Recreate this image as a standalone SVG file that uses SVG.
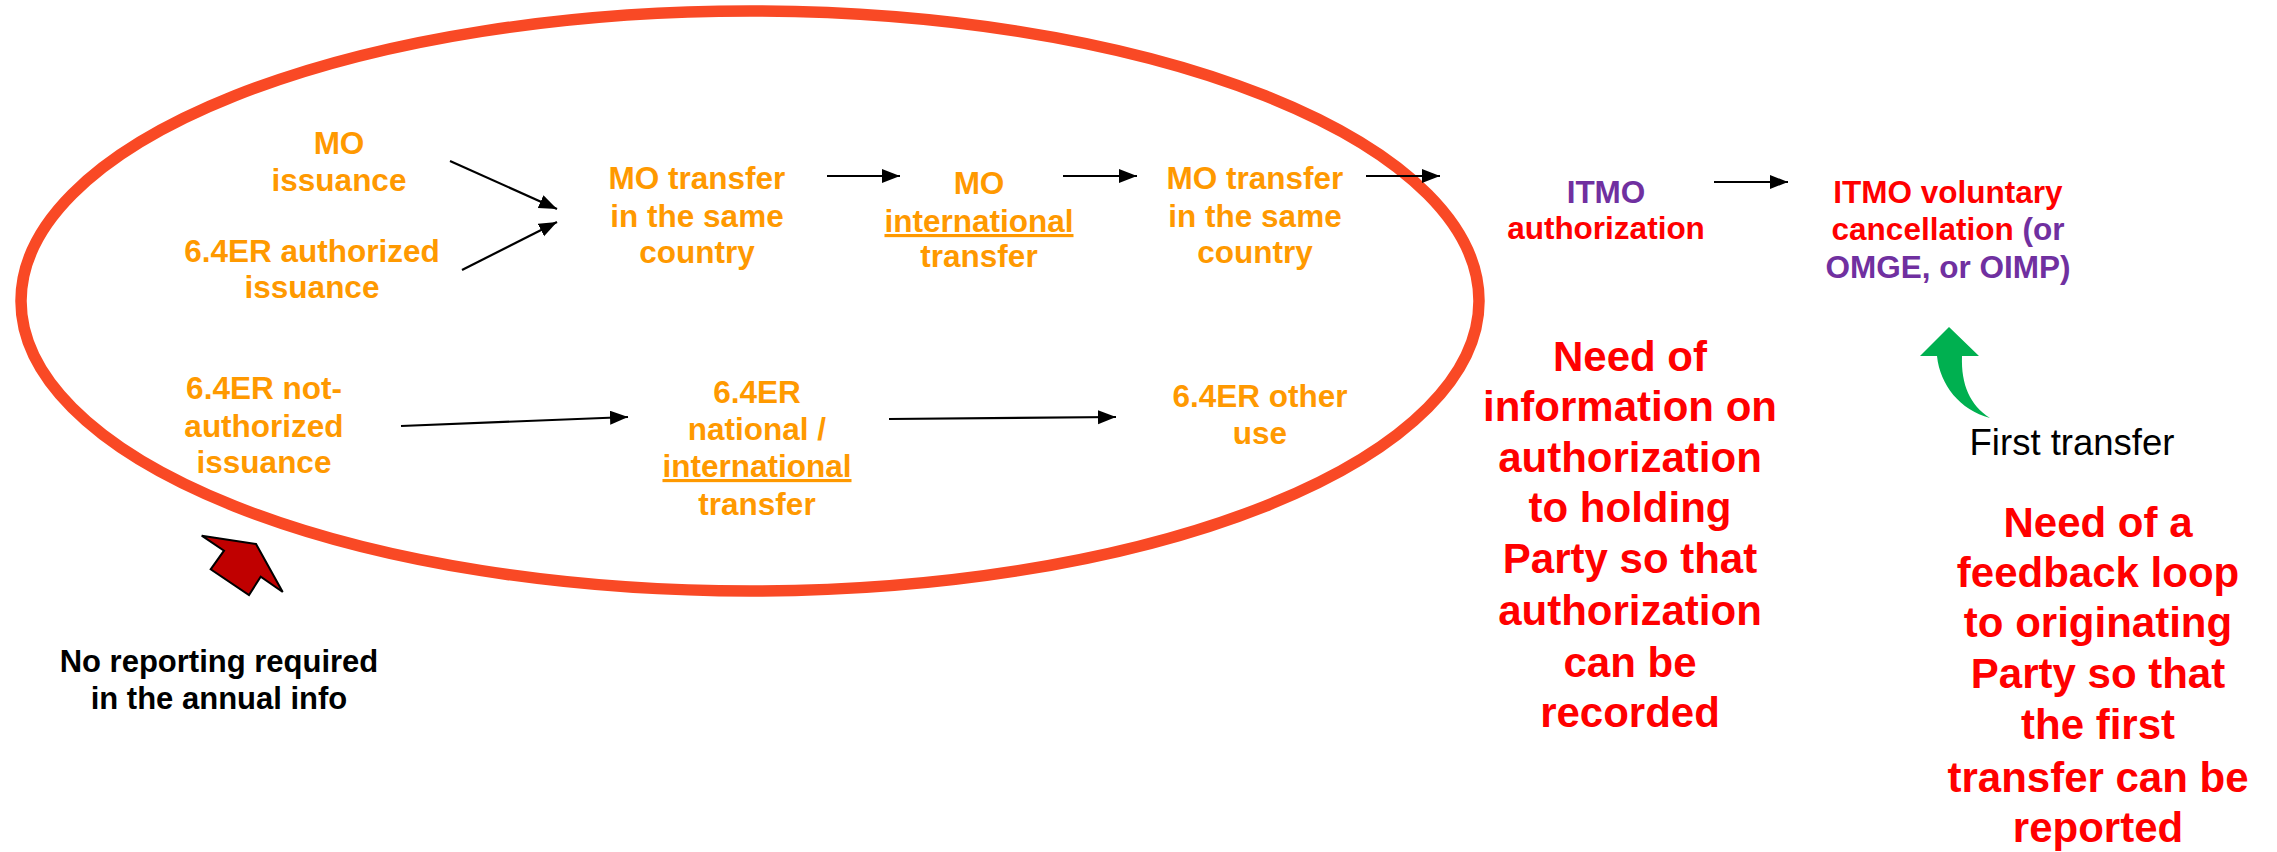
<svg xmlns="http://www.w3.org/2000/svg" width="2277" height="852" viewBox="0 0 2277 852">
<style>
text{font-family:"Liberation Sans",Arial,sans-serif;text-anchor:middle}
.o{fill:#FF9900;font-weight:bold;font-size:31.5px}
.p{fill:#7030A0;font-weight:bold;font-size:31.5px}
.r{fill:#FF0000;font-weight:bold;font-size:31.5px}
.big{fill:#FF0000;font-weight:bold;font-size:42px}
.blk{fill:#000;font-weight:bold;font-size:31px}
.reg{fill:#000;font-size:36.5px}
.u{text-decoration:underline}
.c{stroke:#000;stroke-width:2.2;fill:none;marker-end:url(#ah)}
</style>
<defs>
<marker id="ah" markerUnits="userSpaceOnUse" markerWidth="20" markerHeight="16" refX="18" refY="7" orient="auto">
<path d="M0,0 L18,7 L0,14 z" fill="#000"/>
</marker>
</defs>
<rect width="2277" height="852" fill="#fff"/>
<g id="ellipse">
<ellipse cx="750" cy="301" rx="729" ry="290" fill="none" stroke="#F94925" stroke-width="11.5"/>
</g>
<g id="connectors">
<line class="c" x1="450" y1="161" x2="557" y2="209"/>
<line class="c" x1="462" y1="270" x2="557" y2="222"/>
<line class="c" x1="827" y1="176" x2="900" y2="176"/>
<line class="c" x1="1063" y1="176" x2="1137" y2="176"/>
<line class="c" x1="1366" y1="176" x2="1440" y2="176"/>
<line class="c" x1="1714" y1="182" x2="1788" y2="182"/>
<line class="c" x1="401" y1="426" x2="628" y2="417"/>
<line class="c" x1="889" y1="419" x2="1116" y2="417"/>
</g>
<g id="mo-issuance"><text class="o"><tspan x="339" y="154">MO</tspan><tspan x="339" y="191">issuance</tspan></text></g>
<g id="er-authorized"><text class="o"><tspan x="312" y="262">6.4ER authorized</tspan><tspan x="312" y="298">issuance</tspan></text></g>
<g id="mo-transfer-1"><text class="o"><tspan x="697" y="189">MO transfer</tspan><tspan x="697" y="227">in the same</tspan><tspan x="697" y="263">country</tspan></text></g>
<g id="mo-international"><text class="o"><tspan x="979" y="194">MO</tspan><tspan x="979" y="232" class="u">international</tspan><tspan x="979" y="267">transfer</tspan></text></g>
<g id="mo-transfer-2"><text class="o"><tspan x="1255" y="189">MO transfer</tspan><tspan x="1255" y="227">in the same</tspan><tspan x="1255" y="263">country</tspan></text></g>
<g id="itmo-authorization"><text class="p" x="1606" y="203">ITMO</text><text class="r" x="1606" y="239">authorization</text></g>
<g id="itmo-cancellation"><text class="r" x="1948" y="203">ITMO voluntary</text><text class="r" x="1948" y="240">cancellation <tspan class="p">(or</tspan></text><text class="p" x="1948" y="278">OMGE, or OIMP)</text></g>
<g id="er-not-authorized"><text class="o"><tspan x="264" y="399">6.4ER not-</tspan><tspan x="264" y="437">authorized</tspan><tspan x="264" y="473">issuance</tspan></text></g>
<g id="er-national"><text class="o"><tspan x="757" y="403">6.4ER</tspan><tspan x="757" y="440">national /</tspan><tspan x="757" y="477" class="u">international</tspan><tspan x="757" y="515">transfer</tspan></text></g>
<g id="er-other-use"><text class="o"><tspan x="1260" y="407">6.4ER other</tspan><tspan x="1260" y="444">use</tspan></text></g>
<g id="need-authorization"><text class="big"><tspan x="1630" y="371">Need of</tspan><tspan x="1630" y="421">information on</tspan><tspan x="1630" y="472">authorization</tspan><tspan x="1630" y="522">to holding</tspan><tspan x="1630" y="573">Party so that</tspan><tspan x="1630" y="625">authorization</tspan><tspan x="1630" y="677">can be</tspan><tspan x="1630" y="727">recorded</tspan></text></g>
<g id="need-feedback"><text class="big"><tspan x="2098" y="537">Need of a</tspan><tspan x="2098" y="587">feedback loop</tspan><tspan x="2098" y="637">to originating</tspan><tspan x="2098" y="688">Party so that</tspan><tspan x="2098" y="739">the first</tspan><tspan x="2098" y="792">transfer can be</tspan><tspan x="2098" y="842">reported</tspan></text></g>
<g id="first-transfer">
<path d="M1949,327 L1979,356 L1962,356 C1961,385 1970,405 1990,418 C1960,410 1940,385 1937,356 L1920,356 Z" fill="#00B050"/>
<text class="reg" x="2072" y="455">First transfer</text>
</g>
<g id="no-reporting">
<polygon points="201.7,535.7 256,544 282.7,592 260.7,576.7 249,595 210.7,569.3 224,550.7" fill="#C00000" stroke="#000" stroke-width="2" stroke-linejoin="miter"/>
<text class="blk"><tspan x="219" y="672">No reporting required</tspan><tspan x="219" y="709">in the annual info</tspan></text>
</g>
</svg>
